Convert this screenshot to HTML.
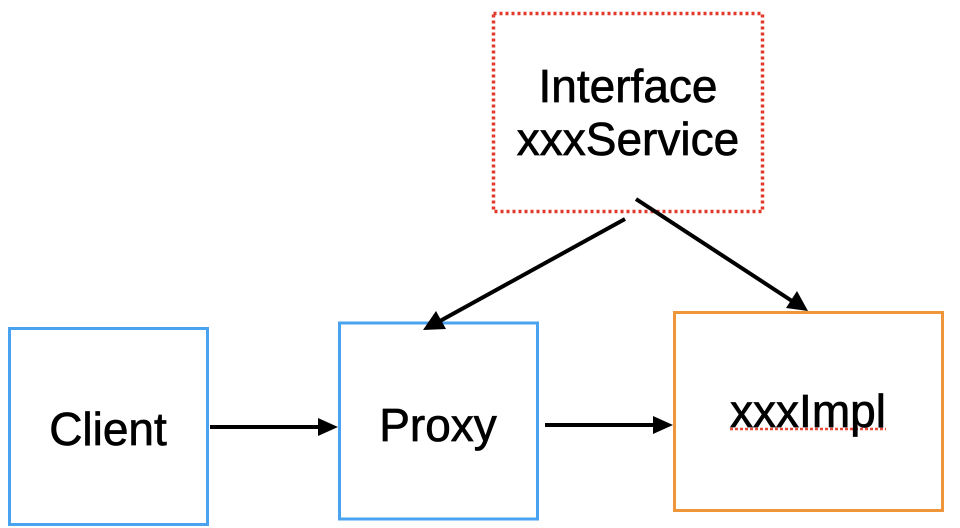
<!DOCTYPE html>
<html><head><meta charset="utf-8"><style>
html,body{margin:0;padding:0;background:#fff;}
svg{display:block;}
text{font-family:"Liberation Sans",Arial,sans-serif;font-size:46px;fill:#000;stroke:#000;stroke-width:0.7;}
</style></head><body>
<svg width="960" height="528" viewBox="0 0 960 528" xmlns="http://www.w3.org/2000/svg">
<rect x="493.5" y="13.5" width="269" height="198" fill="none" stroke="#e03a2a" stroke-width="3.5" stroke-dasharray="3,3"/>
<rect x="9.5" y="328.5" width="198" height="196" fill="none" stroke="#4aa3f0" stroke-width="3"/>
<rect x="339.5" y="323" width="198" height="196" fill="none" stroke="#4aa3f0" stroke-width="3"/>
<rect x="674.5" y="312.5" width="268" height="198" fill="none" stroke="#f0963a" stroke-width="3"/>
<text x="628" y="102" text-anchor="middle">Interface</text>
<text x="628" y="155" text-anchor="middle">xxxService</text>
<text x="108" y="445" text-anchor="middle">Client</text>
<text x="438" y="441" text-anchor="middle">Proxy</text>
<line x1="730" y1="429" x2="886" y2="429" stroke="#e84a3a" stroke-width="2.5" stroke-dasharray="3,2"/>
<text x="808" y="427" text-anchor="middle">xxxImpl</text>
<g stroke="#000" stroke-width="4" fill="#000">
<line x1="210" y1="427" x2="320" y2="427"/>
<polygon points="338,427 318,418 318,436" stroke="none"/>
<line x1="545" y1="425" x2="655" y2="425"/>
<polygon points="673,425 653,416 653,434" stroke="none"/>
<line x1="625" y1="219" x2="440" y2="321"/>
<polygon points="423,330 436,311 446,329" stroke="none"/>
<line x1="636" y1="199" x2="792" y2="301"/>
<polygon points="808,311 786,308 797,291" stroke="none"/>
</g>
</svg>
</body></html>
